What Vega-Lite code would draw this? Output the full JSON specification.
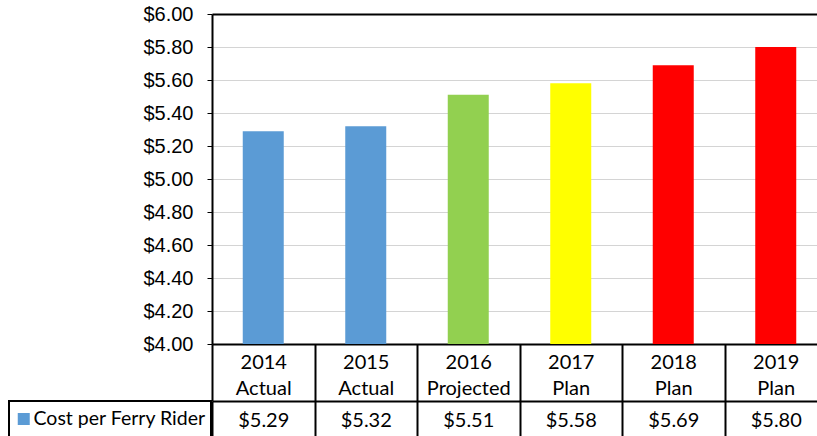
{
  "$schema": "https://vega.github.io/schema/vega-lite/v6.json",
  "width": 605,
  "height": 330,
  "autosize": {"type": "none"},
  "padding": {"left": 212, "top": 14, "right": 0, "bottom": 92},
  "background": "white",
  "config": {"view": {"stroke": null}},
  "data": {
    "values": [
      {"year": "2014", "status": "Actual", "label": "2014 Actual", "cost": 5.29},
      {"year": "2015", "status": "Actual", "label": "2015 Actual", "cost": 5.32},
      {"year": "2016", "status": "Projected", "label": "2016 Projected", "cost": 5.51},
      {"year": "2017", "status": "Plan", "label": "2017 Plan", "cost": 5.58},
      {"year": "2018", "status": "Plan", "label": "2018 Plan", "cost": 5.69},
      {"year": "2019", "status": "Plan", "label": "2019 Plan", "cost": 5.80}
    ]
  },
  "layer": [
    {
      "mark": {"type": "bar", "width": {"band": 0.4}},
      "encoding": {
        "x": {
          "field": "label", "type": "nominal", "sort": null,
          "scale": {"range": [0, 615], "paddingInner": 0, "paddingOuter": 0},
          "axis": {
            "title": null, "orient": "bottom",
            "domainColor": "black", "domainWidth": 2,
            "tickBand": "extent", "tickSize": 57, "tickColor": "black", "tickWidth": 2,
            "labelAngle": 0, "labelExpr": "isString(datum.label) ? split(datum.label, ' ') : ''",
            "labelFont": "Lato", "labelFontSize": 20, "labelColor": "black",
            "labelLineHeight": 26, "labelPadding": -49
          }
        },
        "y": {
          "field": "cost", "type": "quantitative",
          "scale": {"domain": [4, 6], "nice": false, "zero": false},
          "axis": {
            "title": null,
            "values": [4, 4.2, 4.4, 4.6, 4.8, 5, 5.2, 5.4, 5.6, 5.8, 6],
            "format": "$.2f",
            "labelFont": "Liberation Sans", "labelFontSize": 20, "labelColor": "black",
            "labelPadding": 14, "tickSize": 5, "tickColor": "black", "tickWidth": 1,
            "domainColor": "black", "domainWidth": 2,
            "gridColor": {"condition": {"test": "datum.value >= 6", "value": "black"}, "value": "#d4d4d4"},
            "gridWidth": {"condition": {"test": "datum.value >= 6", "value": 2}, "value": 1}
          }
        },
        "y2": {"datum": 4},
        "color": {
          "field": "label", "type": "nominal",
          "scale": {
            "domain": ["2014 Actual", "2015 Actual", "2016 Projected", "2017 Plan", "2018 Plan", "2019 Plan"],
            "range": ["#5B9BD5", "#5B9BD5", "#92D050", "#FFFF00", "#FF0000", "#FF0000"]
          },
          "legend": null
        }
      }
    },
    {
      "mark": {"type": "square", "filled": true, "opacity": 0},
      "encoding": {
        "x": {
          "field": "cost", "type": "nominal", "sort": null,
          "scale": {"type": "band", "range": [0, 615], "paddingInner": 0, "paddingOuter": 0},
          "axis": {
            "title": null, "orient": "bottom", "offset": 57,
            "domainColor": "black", "domainWidth": 2,
            "tickBand": "extent", "tickSize": 40, "tickColor": "black", "tickWidth": 2,
            "labelAngle": 0, "labelExpr": "isNumber(datum.value) ? '$' + format(datum.value, '.2f') : ''",
            "labelFont": "Lato", "labelFontSize": 20, "labelColor": "black",
            "labelPadding": -31
          }
        },
        "color": {
          "datum": "Cost per Ferry Rider",
          "scale": {"range": ["#5B9BD5"]},
          "legend": {
            "title": null, "clipHeight": 26,
            "orient": "none", "legendX": -203, "legendY": 387,
            "symbolType": "square", "symbolSize": 144, "symbolOpacity": 1, "symbolStrokeWidth": 0,
            "labelFont": "Lato", "labelFontSize": 19.5, "labelColor": "black", "labelOffset": 0,
            "labelLimit": 400, "padding": 5, "strokeColor": "black",
            "encode": {"legend": {"update": {"strokeWidth": {"value": 2}}}}
          }
        }
      }
    }
  ],
  "resolve": {"scale": {"x": "independent", "color": "independent"}, "axis": {"x": "independent"}}
}
